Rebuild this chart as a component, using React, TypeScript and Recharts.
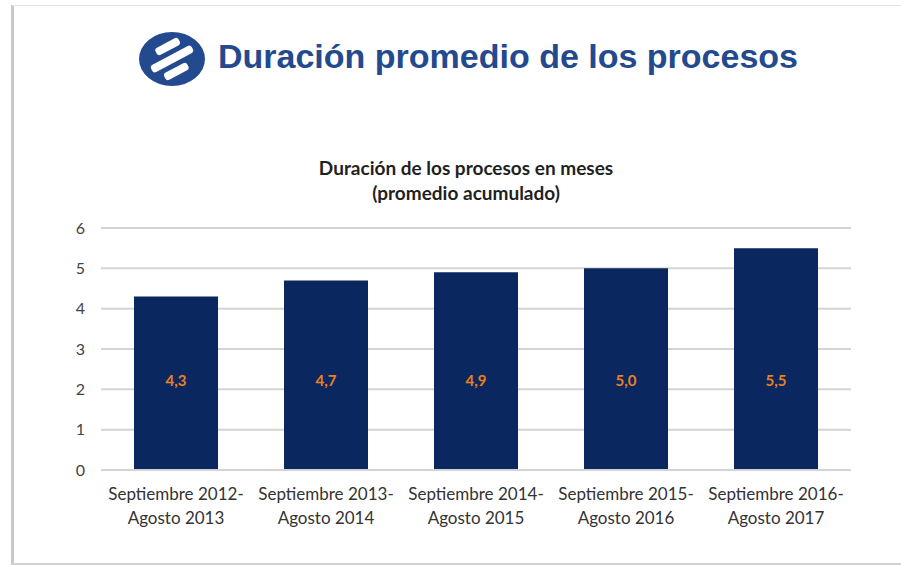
import { BarChart, Bar, XAxis, YAxis, CartesianGrid, LabelList } from 'recharts'

// periodo (dos lineas por etiqueta) y duracion media en meses
const periodStart = [
  'Septiembre 2012-',
  'Septiembre 2013-',
  'Septiembre 2014-',
  'Septiembre 2015-',
  'Septiembre 2016-'
]
const periodEnd = ['Agosto 2013', 'Agosto 2014', 'Agosto 2015', 'Agosto 2016', 'Agosto 2017']
const avgMonths = [4.3, 4.7, 4.9, 5.0, 5.5]
const yTicks = [0, 1, 2, 3, 4, 5, 6]

const data = periodStart.map((start, i) => ({
  period: start + '|' + periodEnd[i],
  months: avgMonths[i]
}))

const BLUE = '#234a8f'
const NAVY = '#0b2760'
const LABEL_FONT = 'Lato, "Open Sans", sans-serif'

function PeriodTick(props: any) {
  const { x, y, payload } = props
  const [a, b] = String(payload.value).split('|')
  return (
    <text x={x} textAnchor="middle" fill="#333" fontSize={17} fontFamily={LABEL_FONT}>
      <tspan x={x} y={y + 22}>{a}</tspan>
      <tspan x={x} y={y + 46}>{b}</tspan>
    </text>
  )
}

function Logo() {
  return (
    <svg width={70} height={58} style={{ position: 'absolute', left: 137, top: 30 }}>
      <ellipse cx={35} cy={29} rx={33} ry={27} fill={BLUE} />
      <g transform="rotate(-28 35 29)" fill="#fff">
        <rect x={24} y={12} width={26} height={8} rx={3} />
        <rect x={12} y={25} width={46} height={8} rx={3} />
        <rect x={20} y={38} width={26} height={8} rx={3} />
      </g>
    </svg>
  )
}

export default function App() {
  return (
    <div style={{ position: 'absolute', left: 0, top: 0, width: 901, height: 565, background: '#fff', overflow: 'hidden' }}>
      {/* marco de la diapositiva */}
      <div
        style={{
          position: 'absolute',
          left: 11,
          top: 5,
          width: 900,
          height: 557,
          borderLeft: '3px solid #c9c9c9',
          borderTop: '1px solid #e4e4e4',
          borderBottom: '2px solid #d0d0d0'
        }}
      />
      <Logo />
      <div
        style={{
          position: 'absolute',
          left: 218,
          top: 37,
          fontFamily: '"Liberation Sans", Arial, sans-serif',
          fontWeight: 'bold',
          fontSize: 34,
          color: BLUE,
          whiteSpace: 'nowrap'
        }}
      >
        Duración promedio de los procesos
      </div>
      <div
        style={{
          position: 'absolute',
          left: 216,
          width: 500,
          top: 155,
          textAlign: 'center',
          fontFamily: LABEL_FONT,
          fontWeight: 'bold',
          fontSize: 19,
          lineHeight: '25px',
          color: '#1f1f1f'
        }}
      >
        Duración de los procesos en meses
        <br />
        (promedio acumulado)
      </div>
      <div style={{ position: 'absolute', left: 0, top: 0 }}>
        <BarChart
          width={901}
          height={565}
          data={data}
          margin={{ top: 228, right: 50, bottom: 0, left: 61 }}
          barCategoryGap="22%"
        >
          <CartesianGrid vertical={false} stroke="#d4d4d4" strokeWidth={2} />
          <XAxis
            dataKey="period"
            axisLine={{ stroke: '#d4d4d4', strokeWidth: 2 }}
            tickLine={false}
            tick={<PeriodTick />}
            height={95}
            interval={0}
          />
          <YAxis
            domain={[0, 6]}
            ticks={yTicks}
            width={40}
            axisLine={false}
            tickLine={false}
            tickMargin={10}
            tick={{ fill: '#444', fontSize: 16, fontFamily: LABEL_FONT }}
          />
          <Bar dataKey="months" fill={NAVY} isAnimationActive={false}>
            <LabelList
              dataKey="months"
              position="insideBottom"
              offset={84}
              fill="#e8801f"
              fontSize={15}
              fontWeight="bold"
              fontFamily={LABEL_FONT}
              formatter={(v: any) => Number(v).toFixed(1).replace('.', ',')}
            />
          </Bar>
        </BarChart>
      </div>
    </div>
  )
}
